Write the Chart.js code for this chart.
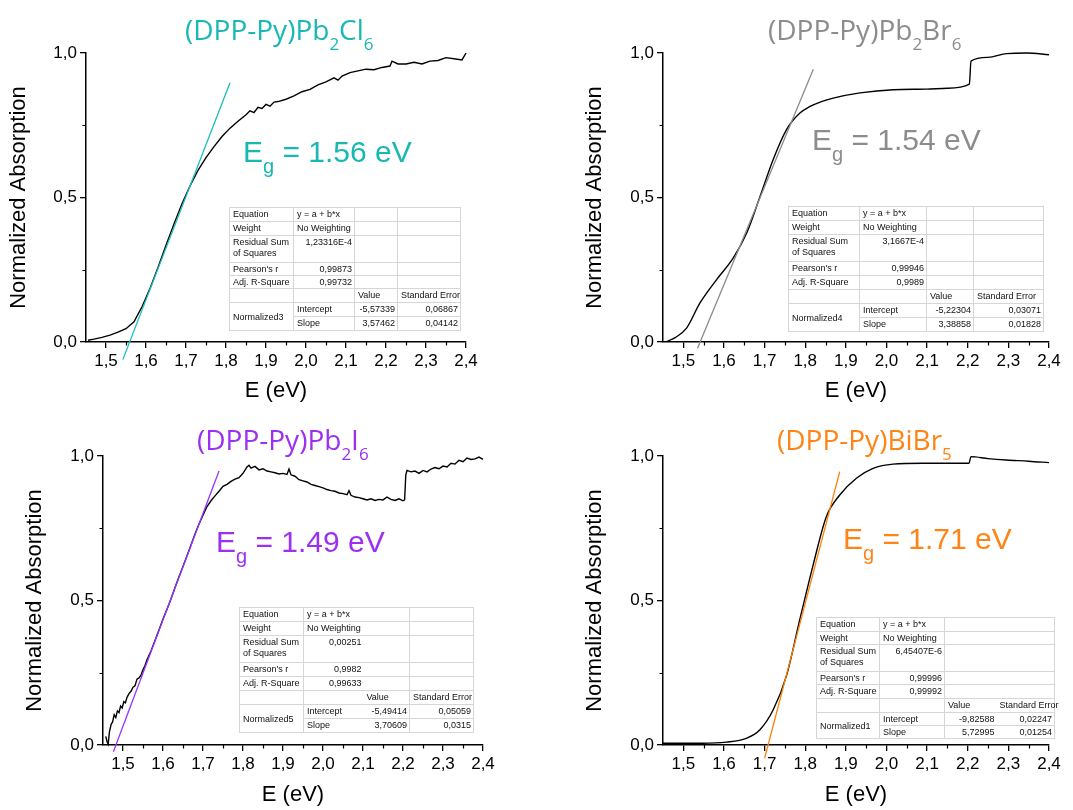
<!DOCTYPE html>
<html lang='en'>
<head>
<meta charset='UTF-8'>
<title>Band gap</title>
<script src="https://cdn.jsdelivr.net/npm/chart.js"></script>
<style>
    body { margin: 0; background: #fff; }
    #wrap { position: relative; width: 1073px; height: 810px; overflow: hidden; }
    canvas { position: absolute; }
    .ttl { position: absolute; font-family: 'Open Sans', sans-serif; font-size: 28px; line-height: 1; white-space: nowrap; }
    .ttl sub { font-size: 17px; vertical-align: -10px; line-height: 0; }
    .eg { position: absolute; font-family: 'Liberation Sans', Arial, sans-serif; font-size: 30px; line-height: 1; white-space: nowrap; }
    .eg sub { font-size: 20px; vertical-align: -11px; line-height: 0; }
    table.fit { position: absolute; border-collapse: collapse; table-layout: fixed; font-family: 'Liberation Sans', Arial, sans-serif; font-size: 9px; color: #111; }
    table.fit td { border: 1px solid #d6d6d6; padding: 1px 2px 0 3px; vertical-align: top; line-height: 11px; overflow: visible; white-space: pre; }
    table.fit td.r { text-align: right; }
    table.fit td.v { border-left: 1px solid #9a9a9a; }
    table.fit td.n { border-left-style: hidden; }
    table.fit td.mid { vertical-align: middle; }
</style>
</head>
<body>
<div id="wrap">
    <canvas id="c1" width="536" height="405" style="left:0;top:0"></canvas>
    <canvas id="c2" width="537" height="405" style="left:536px;top:0"></canvas>
    <canvas id="c3" width="536" height="405" style="left:0;top:405px"></canvas>
    <canvas id="c4" width="537" height="405" style="left:536px;top:405px"></canvas>

    <div class="ttl" style="left:185px;top:15px;color:#18b8b4">(DPP-Py)Pb<sub>2</sub>Cl<sub>6</sub></div>
    <div class="ttl" style="left:768px;top:15px;color:#8c8c8c">(DPP-Py)Pb<sub>2</sub>Br<sub>6</sub></div>
    <div class="ttl" style="left:197px;top:425px;color:#9b30f0">(DPP-Py)Pb<sub>2</sub>I<sub>6</sub></div>
    <div class="ttl" style="left:777px;top:425px;color:#ff8417">(DPP-Py)BiBr<sub>5</sub></div>

    <div class="eg" style="left:243px;top:137px;color:#18b8b4">E<sub>g</sub> = 1.56 eV</div>
    <div class="eg" style="left:812px;top:125px;color:#8c8c8c">E<sub>g</sub> = 1.54 eV</div>
    <div class="eg" style="left:216px;top:527px;color:#9b30f0">E<sub>g</sub> = 1.49 eV</div>
    <div class="eg" style="left:843px;top:524px;color:#ff8417">E<sub>g</sub> = 1.71 eV</div>
</div>

<script>
    // axis ticks
    const xTicks = [1.5, 1.6, 1.7, 1.8, 1.9, 2.0, 2.1, 2.2, 2.3, 2.4];
    const xTickLabels = ['1,5', '1,6', '1,7', '1,8', '1,9', '2,0', '2,1', '2,2', '2,3', '2,4'];
    const xMinor = [1.55, 1.65, 1.75, 1.85, 1.95, 2.05, 2.15, 2.25, 2.35];
    const yTicks = [0, 0.5, 1.0];
    const yTickLabels = ['0,0', '0,5', '1,0'];
    const yMinor = [0.25, 0.75];

    // (DPP-Py)Pb2Cl6
    const clE = [1.455, 1.47, 1.49, 1.51, 1.53, 1.55, 1.57, 1.59, 1.61, 1.63, 1.65, 1.67, 1.69, 1.71, 1.73, 1.75, 1.77, 1.79, 1.81, 1.83, 1.85, 1.86, 1.87, 1.88, 1.89, 1.90, 1.91, 1.92, 1.93, 1.95, 1.97, 1.99, 2.01, 2.03, 2.05, 2.07, 2.08, 2.09, 2.11, 2.13, 2.15, 2.17, 2.19, 2.21, 2.215, 2.23, 2.25, 2.27, 2.29, 2.31, 2.33, 2.35, 2.37, 2.39, 2.4];
    const clA = [0.006, 0.010, 0.016, 0.024, 0.034, 0.046, 0.070, 0.122, 0.185, 0.258, 0.335, 0.408, 0.478, 0.540, 0.594, 0.638, 0.676, 0.711, 0.740, 0.764, 0.786, 0.800, 0.794, 0.812, 0.808, 0.822, 0.816, 0.830, 0.832, 0.840, 0.852, 0.866, 0.874, 0.890, 0.900, 0.914, 0.906, 0.920, 0.932, 0.938, 0.944, 0.942, 0.950, 0.955, 0.972, 0.962, 0.962, 0.968, 0.962, 0.972, 0.974, 0.984, 0.980, 0.976, 1.0];
    const clFitE = [1.542, 1.81];
    const clFitA = [-0.061, 0.897];

    // (DPP-Py)Pb2Br6
    const brE = [1.459, 1.48, 1.508, 1.541, 1.582, 1.623, 1.656, 1.689, 1.721, 1.754, 1.787, 1.812, 1.84, 1.869, 1.935, 2.017, 2.099, 2.15, 2.204, 2.208, 2.25, 2.296, 2.345, 2.4];
    const brA = [0.002, 0.015, 0.048, 0.135, 0.216, 0.291, 0.377, 0.504, 0.631, 0.735, 0.792, 0.815, 0.832, 0.844, 0.862, 0.873, 0.875, 0.878, 0.892, 0.972, 0.985, 0.998, 1.0, 0.994];
    const brFitE = [1.535, 1.82];
    const brFitA = [-0.022, 0.944];

    // (DPP-Py)Pb2I6
    const iE = [1.457, 1.460, 1.463, 1.466, 1.470, 1.474, 1.478, 1.482, 1.486, 1.490, 1.494, 1.498, 1.502, 1.506, 1.510, 1.515, 1.520, 1.525, 1.530, 1.535, 1.540, 1.545, 1.550, 1.555, 1.560, 1.570, 1.580, 1.590, 1.600, 1.610, 1.620, 1.630, 1.640, 1.650, 1.660, 1.670, 1.680, 1.690, 1.700, 1.710, 1.720, 1.730, 1.740, 1.750, 1.760, 1.770, 1.780, 1.790, 1.800, 1.810, 1.815, 1.820, 1.830, 1.840, 1.850, 1.860, 1.870, 1.880, 1.890, 1.900, 1.910, 1.915, 1.920, 1.930, 1.940, 1.950, 1.960, 1.970, 1.980, 1.990, 2.000, 2.010, 2.020, 2.030, 2.040, 2.050, 2.060, 2.065, 2.070, 2.080, 2.090, 2.100, 2.110, 2.120, 2.130, 2.140, 2.150, 2.160, 2.170, 2.180, 2.190, 2.200, 2.204, 2.207, 2.210, 2.220, 2.230, 2.240, 2.250, 2.260, 2.270, 2.280, 2.290, 2.300, 2.310, 2.320, 2.330, 2.340, 2.350, 2.360, 2.370, 2.380, 2.390, 2.400];
    const iA = [0.030, 0.012, 0.003, 0.045, 0.070, 0.080, 0.105, 0.095, 0.118, 0.112, 0.135, 0.128, 0.150, 0.146, 0.165, 0.178, 0.186, 0.200, 0.205, 0.228, 0.232, 0.242, 0.260, 0.275, 0.295, 0.325, 0.362, 0.398, 0.436, 0.470, 0.505, 0.545, 0.582, 0.618, 0.655, 0.692, 0.730, 0.765, 0.795, 0.825, 0.845, 0.862, 0.878, 0.895, 0.902, 0.912, 0.920, 0.925, 0.940, 0.962, 0.968, 0.958, 0.964, 0.952, 0.956, 0.948, 0.945, 0.942, 0.938, 0.940, 0.936, 0.955, 0.935, 0.930, 0.918, 0.914, 0.910, 0.902, 0.898, 0.894, 0.890, 0.884, 0.880, 0.878, 0.872, 0.870, 0.866, 0.880, 0.864, 0.858, 0.856, 0.852, 0.848, 0.852, 0.846, 0.850, 0.848, 0.858, 0.850, 0.846, 0.852, 0.845, 0.848, 0.935, 0.950, 0.945, 0.948, 0.940, 0.950, 0.945, 0.955, 0.960, 0.956, 0.965, 0.962, 0.975, 0.972, 0.985, 0.980, 0.993, 0.988, 0.990, 0.996, 0.988];
    const iFitE = [1.476, 1.74];
    const iFitA = [-0.023, 0.948];

    // (DPP-Py)BiBr5
    const biE = [1.45, 1.50, 1.548, 1.606, 1.655, 1.688, 1.721, 1.754, 1.786, 1.819, 1.852, 1.885, 1.926, 1.967, 2.016, 2.09, 2.15, 2.203, 2.208, 2.25, 2.295, 2.35, 2.4];
    const biA = [0.006, 0.006, 0.006, 0.010, 0.023, 0.052, 0.121, 0.240, 0.430, 0.620, 0.790, 0.865, 0.923, 0.957, 0.972, 0.975, 0.975, 0.975, 0.998, 0.991, 0.986, 0.982, 0.977];
    const biFitE = [1.700, 1.885];
    const biFitA = [-0.046, 0.946];

    // fit tables
    const statNames = ['Equation', 'Weight', 'Residual Sum\nof Squares', "Pearson's r", 'Adj. R-Square'];
    const clStats = ['y = a + b*x', 'No Weighting', '1,23316E-4', '0,99873', '0,99732'];
    const clParams = ['Normalized3', '-5,57339', '0,06867', '3,57462', '0,04142'];
    const brStats = ['y = a + b*x', 'No Weighting', '3,1667E-4', '0,99946', '0,9989'];
    const brParams = ['Normalized4', '-5,22304', '0,03071', '3,38858', '0,01828'];
    const iStats = ['y = a + b*x', 'No Weighting', '0,00251', '0,9982', '0,99633'];
    const iParams = ['Normalized5', '-5,49414', '0,05059', '3,70609', '0,0315'];
    const biStats = ['y = a + b*x', 'No Weighting', '6,45407E-6', '0,99996', '0,99992'];
    const biParams = ['Normalized1', '-9,82588', '0,02247', '5,72995', '0,01254'];

    Chart.defaults.font.family = "'Liberation Sans', Arial, sans-serif";
    Chart.defaults.color = '#000';

    const minorTicks = {
        id: 'minorTicks',
        afterDraw(chart) {
            const { ctx, chartArea, scales } = chart;
            ctx.save();
            ctx.strokeStyle = '#000';
            ctx.lineWidth = 1.2;
            ctx.beginPath();
            xMinor.forEach(v => {
                const p = Math.round(scales.x.getPixelForValue(v)) + 0.5;
                ctx.moveTo(p, chartArea.bottom);
                ctx.lineTo(p, chartArea.bottom + 3.5);
            });
            yMinor.forEach(v => {
                const p = Math.round(scales.y.getPixelForValue(v)) + 0.5;
                ctx.moveTo(chartArea.left, p);
                ctx.lineTo(chartArea.left - 3.5, p);
            });
            ctx.stroke();
            ctx.restore();
        }
    };

    function makeChart(id, E, A, fitE, fitA, fitColor, box, smooth) {
        return new Chart(document.getElementById(id), {
            type: 'line',
            data: {
                datasets: [{
                    data: fitE.map((x, i) => ({ x: x, y: fitA[i] })),
                    borderColor: fitColor,
                    borderWidth: 1.3,
                    pointRadius: 0,
                    clip: false
                }, {
                    data: E.map((x, i) => ({ x: x, y: A[i] })),
                    borderColor: '#000',
                    borderWidth: 1.4,
                    pointRadius: 0,
                    cubicInterpolationMode: smooth ? 'monotone' : 'default',
                    clip: false
                }]
            },
            options: {
                responsive: false,
                animation: false,
                events: [],
                layout: { padding: box.pad },
                plugins: { legend: { display: false }, tooltip: { enabled: false } },
                scales: {
                    x: {
                        type: 'linear', min: 1.45, max: 2.4,
                        afterBuildTicks: s => { s.ticks = xTicks.map(v => ({ value: v })); },
                        afterFit: s => { s.height = box.xh; },
                        ticks: { callback: (v, i) => xTickLabels[i], font: { size: 17 }, padding: 3, maxRotation: 0, autoSkip: false },
                        grid: { drawOnChartArea: false, drawTicks: true, tickLength: 6, color: '#000', lineWidth: 1.3 },
                        border: { color: '#000', width: 1.5 },
                        title: { display: true, text: 'E (eV)', font: { size: 22 }, padding: { top: 0, bottom: box.xtb } }
                    },
                    y: {
                        type: 'linear', min: 0, max: 1.0,
                        afterBuildTicks: s => { s.ticks = yTicks.map(v => ({ value: v })); },
                        afterFit: s => { s.width = box.yw; },
                        ticks: { callback: (v, i) => yTickLabels[i], font: { size: 17 }, padding: 3 },
                        grid: { drawOnChartArea: false, drawTicks: true, tickLength: 6, color: '#000', lineWidth: 1.3 },
                        border: { color: '#000', width: 1.5 },
                        title: { display: true, text: 'Normalized Absorption', font: { size: 22 }, padding: { top: box.ytp, bottom: 0 } }
                    }
                }
            },
            plugins: [minorTicks]
        });
    }

    // hide: which inner column line (2 = between value/intercept cols, 3 = before the last col) is not drawn
    function makeTable(left, top, cols, rows, stats, params, hide) {
        const t = document.createElement('table');
        t.className = 'fit';
        t.style.left = left + 'px';
        t.style.top = top + 'px';
        t.style.width = cols.reduce((a, b) => a + b, 0) + 'px';
        const cg = document.createElement('colgroup');
        cols.forEach(w => { const c = document.createElement('col'); c.style.width = w + 'px'; cg.appendChild(c); });
        t.appendChild(cg);
        const addRow = (h, cells) => {
            const tr = document.createElement('tr');
            tr.style.height = h + 'px';
            cells.forEach(c => {
                const td = document.createElement('td');
                td.textContent = c.t;
                if (c.cls) td.className = c.cls;
                if (c.rs) td.rowSpan = c.rs;
                tr.appendChild(td);
            });
            t.appendChild(tr);
        };
        const v2 = hide === 2 ? 'v n' : 'v';
        const v3 = hide === 3 ? 'v n' : 'v';
        for (let i = 0; i < 5; i++) {
            addRow(rows[i], [
                { t: statNames[i] },
                { t: stats[i], cls: i < 2 ? 'v' : 'r v' },
                { t: '', cls: v2 },
                { t: '', cls: v3 }
            ]);
        }
        addRow(rows[5], [{ t: '' }, { t: '', cls: 'v' }, { t: 'Value', cls: v2 }, { t: 'Standard Error', cls: v3 }]);
        addRow(rows[6], [{ t: params[0], rs: 2, cls: 'mid' }, { t: 'Intercept', cls: 'v' }, { t: params[1], cls: 'r ' + v2 }, { t: params[2], cls: 'r ' + v3 }]);
        addRow(rows[7], [{ t: 'Slope', cls: 'v' }, { t: params[3], cls: 'r ' + v2 }, { t: params[4], cls: 'r ' + v3 }]);
        t.style.border = '1px solid #777';
        document.getElementById('wrap').appendChild(t);
    }

    makeChart('c1', clE, clA, clFitE, clFitA, '#1bbdbd',
        { pad: { left: 0, top: 53, right: 70, bottom: 0 }, xh: 63, yw: 86, xtb: 1, ytp: 6 }, false);
    makeChart('c2', brE, brA, brFitE, brFitA, '#8a8a8a',
        { pad: { left: 0, top: 53, right: 24, bottom: 0 }, xh: 63, yw: 127, xtb: 1, ytp: 46 }, true);
    makeChart('c3', iE, iA, iFitE, iFitA, '#9933ff',
        { pad: { left: 0, top: 51, right: 53, bottom: 0 }, xh: 65, yw: 103, xtb: 2, ytp: 22 }, false);
    makeChart('c4', biE, biA, biFitE, biFitA, '#ff8000',
        { pad: { left: 0, top: 51, right: 24, bottom: 0 }, xh: 65, yw: 127, xtb: 2, ytp: 46 }, true);

    makeTable(229, 207, [64, 61, 43, 63], [14, 14, 27, 13, 13, 14, 14, 14], clStats, clParams, 0);
    makeTable(788, 206, [71, 67, 47, 70], [14, 14, 27, 14, 14, 14, 14, 14], brStats, brParams, 0);
    makeTable(239, 607, [64, 60, 46, 64], [14, 14, 27, 14, 14, 14, 14, 14], iStats, iParams, 2);
    makeTable(816, 617, [63, 65, 52, 58], [14, 13, 27, 13, 14, 14, 13, 13], biStats, biParams, 3);
</script>
</body>
</html>
